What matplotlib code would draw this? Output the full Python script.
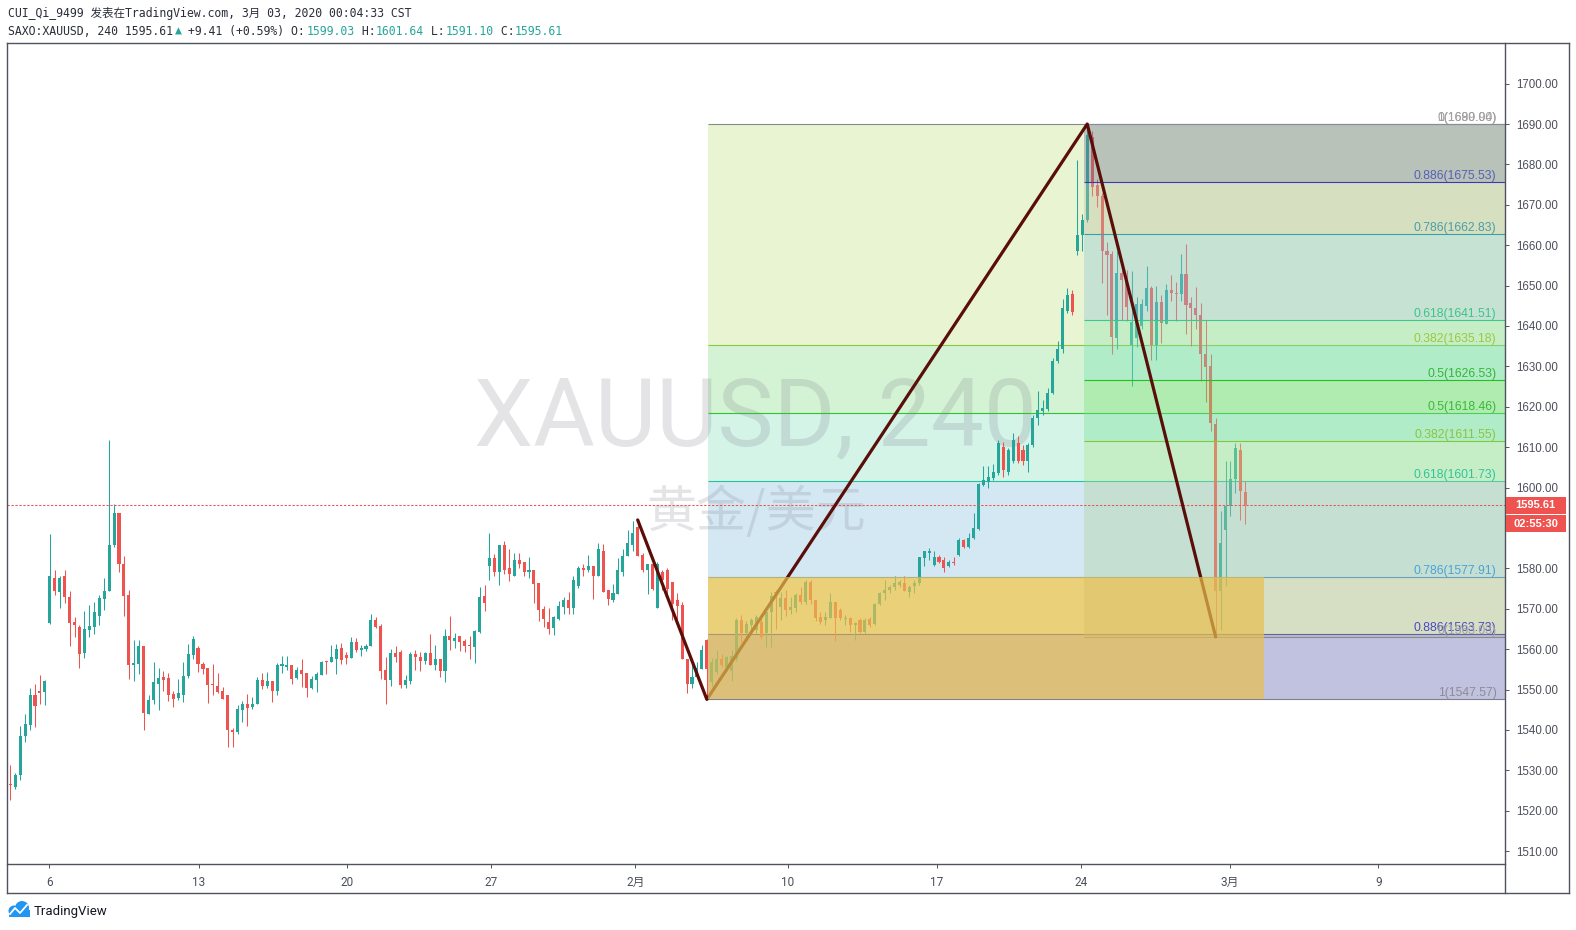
import numpy as np
import matplotlib
matplotlib.use('Agg')
import matplotlib.pyplot as plt
from matplotlib import font_manager as fm
from matplotlib.patches import Rectangle, Circle
from matplotlib.lines import Line2D
from matplotlib.transforms import IdentityTransform
from matplotlib.colors import to_rgb

W, H = 1576, 930

# ---- 4h candles, SAXO:XAUUSD ----
opens = [
    1526.6, 1525.9, 1528.9, 1538.4, 1541.3, 1548.6, 1549.6, 1549.4, 1566.4, 1577.7,
    1574.2, 1578.0, 1573.0, 1566.8, 1565.5, 1559.1, 1564.8, 1565.5, 1568.3, 1572.5,
    1574.5, 1585.7, 1593.7, 1581.2, 1573.5, 1556.1, 1556.3, 1560.8, 1543.9, 1547.4,
    1551.5, 1553.1, 1552.8, 1548.8, 1547.8, 1548.6, 1553.3, 1558.6, 1560.3, 1556.3,
    1555.3, 1551.3, 1550.8, 1549.6, 1548.6, 1540.1, 1539.6, 1544.9, 1546.4, 1545.6,
    1546.4, 1552.3, 1550.8, 1552.1, 1549.6, 1555.8, 1555.6, 1556.1, 1552.8, 1554.8,
    1554.1, 1550.3, 1552.3, 1553.6, 1557.1, 1556.8, 1557.6, 1560.3, 1558.6, 1557.8,
    1561.8, 1559.8, 1560.1, 1560.8, 1567.3, 1565.8, 1554.8, 1552.3, 1559.1, 1559.3,
    1551.1, 1552.1, 1558.8, 1558.1, 1557.1, 1559.1, 1556.1, 1557.6, 1554.6, 1563.3,
    1562.1, 1563.3, 1562.1, 1561.0, 1560.6, 1564.3, 1573.2, 1580.7, 1582.5, 1579.0,
    1585.7, 1580.2, 1578.2, 1582.0, 1581.5, 1579.0, 1579.7, 1576.5, 1570.0, 1566.8,
    1565.3, 1567.5, 1570.5, 1572.2, 1570.3, 1575.7, 1580.2, 1579.5, 1580.5, 1578.2,
    1584.4, 1574.7, 1572.2, 1573.7, 1579.2, 1583.0, 1585.7, 1590.2, 1583.2, 1579.5,
    1581.2, 1570.3, 1579.2, 1579.5, 1576.7, 1572.2, 1571.0, 1557.6, 1551.3, 1553.1,
    1555.1, 1562.2, 1551.8, 1554.3, 1557.6, 1555.6, 1554.7, 1557.6, 1567.3, 1563.9,
    1565.9, 1564.7, 1566.8, 1563.9, 1569.3, 1574.2, 1570.5, 1572.7, 1569.7, 1570.1,
    1573.4, 1571.7, 1576.7, 1572.3, 1568.0, 1567.2, 1567.6, 1571.7, 1569.7, 1567.4,
    1567.6, 1565.9, 1567.2, 1564.3, 1567.4, 1566.2, 1571.2, 1573.8, 1574.6, 1575.5,
    1575.9, 1576.3, 1574.2, 1575.6, 1576.3, 1582.5, 1583.9, 1580.9, 1582.9, 1582.1,
    1580.5, 1581.7, 1583.4, 1587.1, 1585.4, 1587.5, 1589.7, 1600.6, 1601.4, 1602.4,
    1603.5, 1610.1, 1603.9, 1606.6, 1611.0, 1609.2, 1606.6, 1610.5, 1617.3, 1618.9,
    1619.4, 1623.4, 1631.3, 1634.2, 1643.8, 1647.9, 1658.5, 1662.6, 1666.2, 1686.9,
    1675.0, 1672.1, 1658.5, 1657.9, 1637.0, 1653.2, 1651.6, 1635.2, 1637.0, 1640.1,
    1645.0, 1649.4, 1635.2, 1646.0, 1640.6, 1648.9, 1648.2, 1647.9, 1652.9, 1645.6,
    1644.5, 1642.8, 1633.1, 1630.2, 1615.8, 1574.5, 1589.5, 1595.5, 1602.2, 1609.4,
    1599.03,
]
highs = [
    1531.4, 1529.3, 1541.1, 1543.9, 1550.3, 1551.5, 1553.5, 1552.3, 1588.6, 1579.7,
    1578.2, 1579.7, 1574.5, 1568.0, 1566.0, 1569.5, 1571.0, 1571.7, 1573.5, 1577.7,
    1611.8, 1595.9, 1593.8, 1583.0, 1574.7, 1562.3, 1562.3, 1560.8, 1548.6, 1556.8,
    1555.3, 1554.6, 1554.1, 1549.6, 1552.6, 1556.8, 1561.3, 1563.3, 1560.8, 1556.8,
    1555.3, 1556.3, 1554.1, 1550.6, 1548.6, 1540.6, 1546.1, 1547.1, 1548.8, 1548.1,
    1553.1, 1554.1, 1554.3, 1552.1, 1556.6, 1558.3, 1558.3, 1556.1, 1555.6, 1557.6,
    1554.1, 1553.3, 1554.3, 1557.1, 1557.1, 1561.0, 1561.3, 1561.5, 1559.3, 1563.0,
    1562.8, 1561.0, 1561.3, 1568.8, 1568.0, 1566.3, 1558.1, 1560.1, 1560.8, 1559.8,
    1553.6, 1559.3, 1559.8, 1559.3, 1559.3, 1563.8, 1561.0, 1557.6, 1565.0, 1568.3,
    1564.0, 1563.3, 1562.6, 1563.3, 1564.8, 1575.5, 1576.0, 1588.7, 1583.5, 1585.7,
    1586.7, 1584.7, 1583.7, 1583.7, 1581.5, 1582.7, 1579.7, 1576.5, 1570.8, 1570.3,
    1568.3, 1572.0, 1573.0, 1574.2, 1578.2, 1580.7, 1581.0, 1583.2, 1580.5, 1586.2,
    1586.0, 1574.7, 1576.2, 1582.5, 1584.7, 1589.4, 1591.7, 1592.2, 1583.7, 1581.2,
    1582.0, 1581.7, 1579.7, 1580.0, 1576.7, 1573.9, 1571.7, 1557.6, 1556.6, 1556.8,
    1561.0, 1562.6, 1557.8, 1559.7, 1558.9, 1558.2, 1559.7, 1567.6, 1568.4, 1567.0,
    1567.6, 1568.4, 1567.6, 1570.5, 1574.2, 1574.6, 1574.2, 1574.6, 1573.0, 1573.8,
    1575.5, 1577.1, 1577.1, 1572.3, 1569.3, 1569.3, 1573.8, 1571.7, 1570.1, 1568.4,
    1568.0, 1566.8, 1567.6, 1567.6, 1568.0, 1571.5, 1574.2, 1577.1, 1575.9, 1578.0,
    1577.1, 1578.1, 1575.9, 1577.1, 1582.9, 1584.2, 1585.0, 1584.2, 1583.4, 1582.9,
    1582.1, 1582.8, 1587.5, 1587.3, 1588.8, 1593.7, 1601.2, 1605.3, 1605.3, 1605.8,
    1611.9, 1611.4, 1609.7, 1613.6, 1612.7, 1610.5, 1611.0, 1618.0, 1623.8, 1621.7,
    1624.7, 1632.2, 1636.4, 1646.7, 1649.3, 1648.9, 1681.2, 1667.8, 1690.0, 1688.2,
    1676.3, 1672.8, 1660.9, 1658.6, 1658.6, 1655.1, 1653.8, 1653.6, 1647.2, 1646.7,
    1654.9, 1649.8, 1650.0, 1647.6, 1650.3, 1652.6, 1650.9, 1657.9, 1660.4, 1647.2,
    1649.6, 1645.8, 1641.4, 1633.1, 1617.2, 1594.2, 1606.6, 1606.6, 1611.0, 1611.0,
    1601.64,
]
lows = [
    1522.7, 1525.5, 1527.7, 1537.1, 1539.9, 1540.7, 1546.5, 1546.1, 1566.3, 1573.5,
    1570.3, 1571.5, 1560.8, 1563.0, 1555.3, 1557.8, 1563.0, 1563.8, 1566.0, 1569.8,
    1574.5, 1585.2, 1579.2, 1568.3, 1552.6, 1552.1, 1553.8, 1540.1, 1543.9, 1546.4,
    1544.9, 1549.6, 1547.1, 1545.6, 1547.4, 1546.9, 1552.8, 1557.6, 1554.3, 1553.8,
    1546.6, 1548.6, 1549.1, 1547.6, 1535.9, 1535.9, 1538.9, 1541.9, 1540.9, 1545.1,
    1546.4, 1550.1, 1550.3, 1546.9, 1548.6, 1554.1, 1554.8, 1551.3, 1552.6, 1550.6,
    1548.1, 1550.1, 1549.3, 1553.6, 1553.8, 1556.8, 1553.8, 1556.3, 1556.3, 1557.8,
    1559.3, 1558.3, 1559.6, 1560.8, 1565.3, 1552.6, 1546.4, 1550.8, 1556.8, 1550.3,
    1550.3, 1551.5, 1554.8, 1554.6, 1556.3, 1556.1, 1554.8, 1553.1, 1551.8, 1559.8,
    1560.3, 1559.6, 1559.3, 1557.6, 1556.6, 1564.0, 1569.5, 1577.2, 1578.0, 1576.0,
    1578.5, 1577.0, 1578.2, 1580.0, 1578.0, 1577.7, 1571.5, 1567.0, 1565.5, 1563.8,
    1563.5, 1567.3, 1568.8, 1568.8, 1568.8, 1575.2, 1578.2, 1579.2, 1572.5, 1578.2,
    1574.2, 1571.0, 1571.7, 1573.7, 1578.0, 1583.0, 1584.2, 1583.0, 1579.2, 1573.7,
    1574.7, 1570.3, 1574.7, 1573.0, 1567.3, 1567.3, 1557.6, 1549.1, 1550.3, 1553.1,
    1555.1, 1547.57, 1550.8, 1553.9, 1555.6, 1554.7, 1552.2, 1557.2, 1561.8, 1563.0,
    1564.7, 1563.9, 1562.6, 1560.5, 1560.5, 1565.1, 1567.2, 1568.2, 1568.8, 1569.3,
    1571.2, 1571.3, 1571.3, 1567.0, 1566.3, 1565.9, 1567.6, 1562.0, 1567.2, 1565.9,
    1564.3, 1562.2, 1563.9, 1563.9, 1565.5, 1565.9, 1570.9, 1572.2, 1574.0, 1574.6,
    1575.3, 1574.5, 1573.0, 1573.8, 1575.9, 1580.5, 1582.1, 1580.7, 1581.3, 1579.0,
    1580.3, 1580.9, 1583.1, 1585.0, 1585.0, 1587.3, 1589.6, 1600.4, 1600.0, 1602.0,
    1603.0, 1602.6, 1603.0, 1606.1, 1606.1, 1605.7, 1603.9, 1610.1, 1615.4, 1618.0,
    1618.9, 1623.2, 1630.8, 1633.3, 1643.2, 1642.8, 1657.6, 1658.6, 1665.7, 1672.3,
    1669.5, 1650.7, 1642.8, 1633.1, 1634.4, 1641.4, 1641.3, 1625.1, 1634.8, 1639.2,
    1643.6, 1631.6, 1631.6, 1635.7, 1640.6, 1646.3, 1641.3, 1646.3, 1637.9, 1635.1,
    1639.2, 1626.4, 1621.1, 1614.1, 1563.03, 1564.7, 1575.7, 1592.9, 1598.6, 1592.0,
    1591.10,
]
closes = [
    1526.4, 1528.9, 1538.4, 1541.4, 1548.6, 1546.0, 1549.1, 1552.1, 1578.0, 1574.5,
    1577.7, 1573.0, 1566.5, 1565.9, 1558.8, 1565.0, 1565.8, 1569.3, 1572.7, 1574.5,
    1585.7, 1593.7, 1581.0, 1573.2, 1556.1, 1556.6, 1560.8, 1544.1, 1547.4, 1551.8,
    1552.8, 1552.3, 1548.6, 1547.6, 1549.1, 1553.3, 1558.8, 1562.6, 1556.3, 1555.1,
    1551.1, 1551.1, 1549.3, 1547.6, 1539.9, 1539.6, 1545.1, 1546.4, 1545.4, 1546.5,
    1552.3, 1550.8, 1552.1, 1549.6, 1556.1, 1556.3, 1556.1, 1552.6, 1554.8, 1553.8,
    1550.3, 1552.6, 1553.8, 1556.8, 1556.8, 1558.1, 1560.1, 1557.3, 1557.8, 1561.8,
    1559.8, 1560.3, 1560.8, 1567.3, 1565.5, 1554.6, 1552.3, 1559.1, 1558.1, 1551.1,
    1552.3, 1558.8, 1558.1, 1557.1, 1559.1, 1556.1, 1557.6, 1554.6, 1563.3, 1562.3,
    1562.8, 1561.8, 1560.8, 1560.8, 1564.5, 1573.0, 1571.5, 1582.5, 1579.0, 1585.7,
    1579.7, 1578.5, 1582.2, 1581.2, 1579.2, 1579.5, 1576.2, 1569.8, 1567.5, 1565.0,
    1568.0, 1570.8, 1572.2, 1570.3, 1577.2, 1580.0, 1579.5, 1580.7, 1578.0, 1584.7,
    1574.2, 1572.5, 1574.0, 1579.5, 1583.0, 1586.2, 1588.7, 1583.0, 1579.5, 1581.2,
    1575.0, 1581.2, 1577.2, 1575.0, 1571.2, 1570.6, 1557.6, 1551.3, 1553.1, 1555.3,
    1559.8, 1555.2, 1556.8, 1557.6, 1556.0, 1558.0, 1558.4, 1567.2, 1563.9, 1566.3,
    1567.2, 1568.0, 1563.0, 1569.3, 1573.2, 1573.8, 1572.6, 1569.7, 1570.5, 1573.4,
    1571.7, 1576.7, 1572.2, 1567.6, 1566.8, 1568.0, 1571.7, 1567.6, 1567.6, 1567.8,
    1565.9, 1566.5, 1564.3, 1567.3, 1565.9, 1571.3, 1573.8, 1574.6, 1575.5, 1576.3,
    1576.7, 1574.5, 1575.5, 1576.3, 1582.9, 1584.2, 1584.2, 1582.9, 1581.7, 1580.0,
    1581.7, 1581.3, 1587.1, 1585.3, 1587.5, 1590.0, 1600.8, 1602.0, 1602.7, 1603.9,
    1611.0, 1604.4, 1609.2, 1611.9, 1606.6, 1606.6, 1610.5, 1617.2, 1619.1, 1619.6,
    1623.5, 1631.3, 1634.2, 1644.4, 1647.6, 1643.4, 1662.6, 1666.3, 1687.3, 1674.3,
    1672.1, 1658.5, 1657.6, 1637.2, 1653.2, 1651.3, 1644.7, 1641.0, 1645.4, 1645.4,
    1649.4, 1635.2, 1646.0, 1640.7, 1648.9, 1648.1, 1648.0, 1652.9, 1645.1, 1644.4,
    1642.8, 1633.1, 1629.8, 1616.0, 1574.5, 1586.3, 1595.5, 1602.2, 1609.7, 1599.1,
    1595.61,
]

date_ticks = [7.9, 38.2, 68.2, 97.3, 126.5, 157.4, 187.6, 216.7, 246.9, 276.9]
date_labels = ['6', '13', '20', '27', '2月', '10', '17', '24', '3月', '9']
price_ticks = list(range(1510, 1701, 10))

last_price = 1595.61
countdown = '02:55:30'

# drawings
zigzag_x = [127, 141, 218, 244]
zigzag_y = [1592.0, 1547.57, 1690.00, 1563.03]

fib_a_start = 141.2
fib_a_levels = [1689.94, 1635.18, 1618.46, 1601.73, 1577.91, 1563.73, 1547.57]
fib_a_ratios = ['0', '0.382', '0.5', '0.618', '0.786', '0.886', '1']
fib_a_lines = ['#8a8a8a', '#8cc63c', '#2ec42e', '#22c49a', '#3d95d0', '#2a2ac0', '#80808c']
fib_a_text = ['#a0a0a0', '#99c940', '#3ab83a', '#30c49a', '#4aa3d8', '#4a4ac0', '#8c8c96']
fib_a_fills = ['#e9f4d3', '#d4f2d4', '#d4f4e8', '#d4e8f4', '#eef8e0', '#c0c2e0']

fib_b_start = 217.4
fib_b_levels = [1690.00, 1675.53, 1662.83, 1641.51, 1626.53, 1611.55, 1563.03]
fib_b_ratios = ['1', '0.886', '0.786', '0.618', '0.5', '0.382', '0']
fib_b_lines = ['#8a8aa0', '#3a3ab8', '#3aa0a8', '#3cc88c', '#22c022', '#80c83c', '#8a8a8a']
fib_b_text = ['#a0a0a0', '#5560b8', '#4a9ea8', '#3cc48a', '#35b535', '#8cc43c', '#a0a0a8']
# how the fib B area looks where it lies over fib A, top to bottom
fib_b_edges = [1690.00, 1675.53, 1662.83, 1641.51, 1635.18, 1626.53,
               1618.46, 1611.55, 1601.73, 1577.91, 1563.03]
fib_b_seen = ['#b9c3b9', '#d6dfc0', '#c5e2d3', '#c6eec6', '#b0ecc8',
              '#b0ecb0', '#b0ecc8', '#c6eec6', '#c5e0d3', '#d6dec4']

box_x = [141.2, 253.7]
box_y = [1547.57, 1577.91]


def has_font(name):
    try:
        fm.findfont(fm.FontProperties(family=name), fallback_to_default=False)
        return True
    except Exception:
        return False


narrow = 'Liberation Sans Narrow' if has_font('Liberation Sans Narrow') else 'Roboto'
cjk = 'Noto Sans CJK SC'
border = '#50535e'

fig = plt.figure(figsize=(W / 100, H / 100), dpi=100)
fig.patch.set_facecolor('white')
ax = fig.add_axes([7 / W, 1 - 864 / H, (1505 - 7) / W, (864 - 43) / H])
xmin, xmax = -0.67, 302.57
ax.set_xlim(xmin, xmax)
ax.set_ylim(1506.83, 1710.05)
for s in ax.spines.values():
    s.set_visible(False)

# fib A (under the candles)
for top, bot, col in zip(fib_a_levels[:-1], fib_a_levels[1:], fib_a_fills):
    ax.add_patch(Rectangle((fib_a_start, bot), xmax - fib_a_start, top - bot,
                           fc=col, ec='none', zorder=1))
ax.hlines(fib_a_levels, fib_a_start, xmax, colors=fib_a_lines, lw=0.8, zorder=2)

# watermark
ax.text(150.9, 1610.4, 'XAUUSD, 240', ha='center', va='baseline', fontsize=68,
        family=narrow, color='#787b86', alpha=0.2, zorder=1.5)
ax.text(150.9, 1590.3, '黄金/美元', ha='center', va='baseline', fontsize=36,
        family=[cjk, 'DejaVu Sans'], color='#787b86', alpha=0.2, zorder=1.5)

# candles
o, hi, lo, c = map(np.array, (opens, highs, lows, closes))
x = np.arange(len(o))
cols = np.where(c >= o, '#26a69a', '#ef5350')
ax.vlines(x, lo, hi, colors=cols, lw=0.75, zorder=3)
ax.bar(x, np.maximum(np.abs(c - o), 0.25), bottom=np.minimum(o, c), width=0.62,
       color=cols, lw=0, zorder=3.1)


# fib B (drawn over the candles, see-through)
def under_a(p):
    for top, bot, col in zip(fib_a_levels[:-1], fib_a_levels[1:], fib_a_fills):
        if bot <= p <= top:
            return np.array(to_rgb(col))
    return np.ones(3)


alpha_b = 0.4
for top, bot, seen in zip(fib_b_edges[:-1], fib_b_edges[1:], fib_b_seen):
    base = under_a((top + bot) / 2)
    col = np.clip((np.array(to_rgb(seen)) - (1 - alpha_b) * base) / alpha_b, 0, 1)
    ax.add_patch(Rectangle((fib_b_start, bot), xmax - fib_b_start, top - bot,
                           fc=col, ec='none', alpha=alpha_b, zorder=4))
ax.hlines(fib_b_levels, fib_b_start, xmax, colors=fib_b_lines, lw=0.8, zorder=4.5)

ax.axhline(last_price, color='#ef5350', lw=0.75, ls=(0, (2.2, 1.6)), zorder=4.6)

ax.plot(zigzag_x, zigzag_y, color='#5a0e0a', lw=2.3, zorder=5, solid_capstyle='round')

# gold box
ax.add_patch(Rectangle((box_x[0], box_y[0]), box_x[1] - box_x[0], box_y[1] - box_y[0],
                       fc='#e8c04e', ec='none', alpha=0.7, zorder=6))

# fib labels
lx = xmax - 1.7
for lev, r, col in zip(fib_a_levels, fib_a_ratios, fib_a_text):
    ax.text(lx, lev, f'{r}({lev:.2f})', ha='right', va='bottom', fontsize=8.8,
            family='Liberation Sans', color=col, zorder=8)
for lev, r, col in zip(fib_b_levels, fib_b_ratios, fib_b_text):
    ax.text(lx, lev, f'{r}({lev:.2f})', ha='right', va='bottom', fontsize=8.8,
            family='Liberation Sans', color=col, zorder=8)

# axes
ax.yaxis.tick_right()
ax.set_yticks(price_ticks)
ax.set_yticklabels([f'{v:.2f}' for v in price_ticks])
ax.tick_params(axis='y', direction='out', length=3, width=0.7, color=border,
               pad=5, labelsize=8.3, labelcolor='#4c4f5a')
for t in ax.get_yticklabels():
    t.set_family('Liberation Sans')
ax.set_xticks(date_ticks)
ax.set_xticklabels(date_labels)
ax.tick_params(axis='x', direction='out', length=3, width=0.7, color=border,
               pad=5.5, labelsize=8.5, labelcolor='#4c4f5a')
for t in ax.get_xticklabels():
    t.set_family([narrow, cjk])

# frame
ident = IdentityTransform()


def seg(x0, y0, x1, y1):
    fig.add_artist(Line2D([x0, x1], [H - y0, H - y1], color=border, lw=1.0,
                          transform=ident, zorder=20))


seg(7, 43, 1569, 43)
seg(7, 893, 1569, 893)
seg(7, 43, 7, 893)
seg(1569, 43, 1569, 893)
seg(1505, 43, 1505, 893)
seg(7, 864, 1505, 864)

# last price / countdown tags
py = ax.transData.transform((0, last_price))[1]
for k, txt in enumerate([f'{last_price:.2f}', countdown]):
    cy = py - k * 18.5
    fig.add_artist(Rectangle((1505.5, cy - 8.6), 60, 17.2, fc='#ef5350', ec='none',
                             transform=ident, zorder=21))
    fig.text(1535.5, cy, txt, color='white', fontsize=8.0, fontweight='bold',
             family='Liberation Sans', ha='center', va='center', transform=ident,
             zorder=22)

# header
mono = 'DejaVu Sans Mono'
hsize = 8.3
dark = '#2a2e39'
teal = '#26a69a'
fig.text(8, H - 13, 'CUI_Qi_9499 发表在TradingView.com, 3月 03, 2020 00:04:33 CST',
         family=[mono, cjk], fontsize=hsize, color=dark, va='center', ha='left',
         transform=ident)
cw = hsize * 100 / 72 * 0.602
parts = [('SAXO:XAUUSD, 240 1595.61', dark), ('▲', teal), (' +9.41 (+0.59%) O:', dark),
         ('1599.03', teal), (' H:', dark), ('1601.64', teal), (' L:', dark),
         ('1591.10', teal), (' C:', dark), ('1595.61', teal)]
n = 0
for s, col in parts:
    fig.text(8 + n * cw, H - 31.5, s, family=mono, fontsize=hsize, color=col,
             va='center', ha='left', transform=ident)
    n += len(s)

# TradingView logo
blue = '#2196f3'
fig.add_artist(Circle((14, H - 911), 5.5, fc=blue, ec='none', transform=ident))
fig.add_artist(Circle((22, H - 908), 7, fc=blue, ec='none', transform=ident))
fig.add_artist(Rectangle((8.5, H - 917), 21, 7, fc=blue, ec='none', transform=ident))
fig.add_artist(Line2D([10, 15, 20, 27], [H - 914, H - 908, H - 913, H - 905],
                      color='white', lw=1.3, transform=ident))
fig.text(34, H - 911, 'TradingView', family=narrow, fontsize=9.5, color='#131722',
         va='center', ha='left', transform=ident)

fig.savefig('out.png', dpi=100, facecolor='white')
